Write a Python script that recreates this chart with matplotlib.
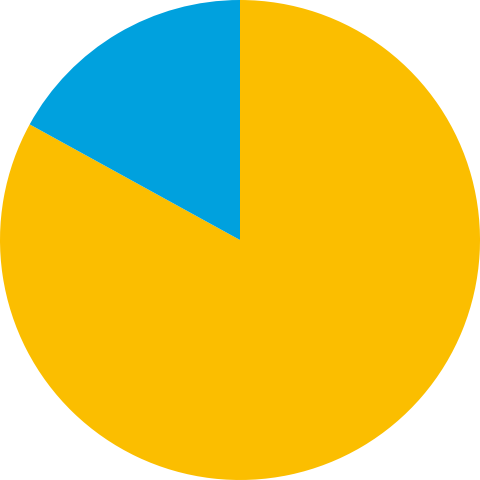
import matplotlib
matplotlib.use("Agg")
import matplotlib.pyplot as plt

## === DATA
labels = ["Yellow", "Blue"]
values = [83, 17]
colors = ["#FBBE00", "#00A1DE"]

## === PLOT
fig = plt.figure(figsize=(4.8, 4.8), dpi=100)
ax = fig.add_axes([0, 0, 1, 1])
ax.pie(
    values,
    colors=colors,
    startangle=90,
    counterclock=False,
    radius=1.0,
    wedgeprops={"linewidth": 0},
)
ax.set_xlim(-1, 1)
ax.set_ylim(-1, 1)
ax.set_aspect("equal")
ax.axis("off")
fig.savefig("out.png", dpi=100)
